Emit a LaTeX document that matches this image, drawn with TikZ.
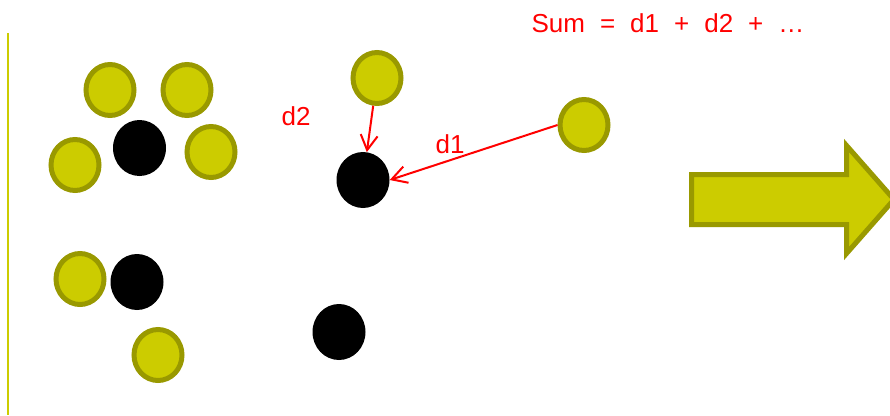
\documentclass[tikz,border=0pt]{standalone}
\usepackage{fontspec}
\setmainfont{Liberation Sans}
\usetikzlibrary{arrows.meta, shapes.geometric}
\definecolor{olivefill}{RGB}{204, 204, 0}
\definecolor{olivedraw}{RGB}{153, 153, 0}

\begin{document}
\begin{tikzpicture}[x=1pt, y=-1pt,
    pt/.style={ellipse, draw=olivedraw, fill=olivefill, line width=5pt,
               inner sep=0pt, minimum width=48pt, minimum height=51pt},
    cent/.style={ellipse, fill=black, inner sep=0pt,
                 minimum width=53pt, minimum height=56pt},
    arr/.style={-{Straight Barb[length=15pt, width=17pt]}, line width=2pt, red},
    lbl/.style={text=red, inner sep=0pt, font=\fontsize{26}{30}\selectfont}
  ]
    \clip (0,0) rectangle (890,415);
    \draw[olivefill, line width=2pt] (8,33) -- (8,415);

    \node[pt] (p1) at (110,90) {};
    \node[pt] (p2) at (187,90) {};
    \node[pt] (p3) at (75,165) {};
    \node[pt] (p4) at (211,152) {};
    \node[cent] (c1) at (139.5,148) {};

    \node[pt] (p5) at (80,279) {};
    \node[cent] (c2) at (137,282) {};
    \node[pt] (p6) at (158,355) {};
    \node[cent] (c3) at (339,332) {};

    \node[pt] (q2) at (377,78) {};
    \node[pt] (q1) at (584,125) {};
    \node[cent] (c4) at (363,180) {};

    \draw[arr] (q2) -- (c4);
    \draw[arr] (q1.west) -- (c4.east);
    \node[lbl] (d2) at (296,116) {d2};
    \node[lbl] (d1) at (450,144) {d1};
    \node[lbl] (sum) at (668,23) {\spaceskip=15pt Sum = d1 + d2 + …};

    \draw[draw=olivedraw, fill=olivefill, line width=5pt]
      (691.5,174.5) -- (846.5,174.5) -- (846.5,145.5) -- (894,199.5)
      -- (846.5,253.5) -- (846.5,224.5) -- (691.5,224.5) -- cycle;
  \end{tikzpicture}
\end{document}
